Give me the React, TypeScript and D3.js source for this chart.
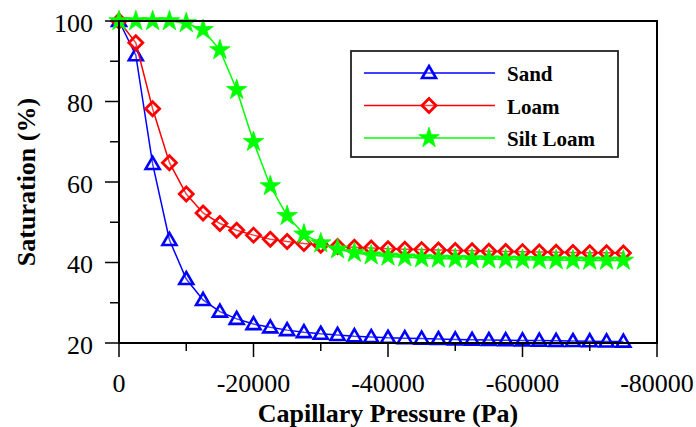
import React from "react";
import * as d3 from "d3";

const pressures = [0, -2500, -5000, -7500, -10000, -12500, -15000, -17500, -20000, -22500, -25000, -27500, -30000, -32500, -35000, -37500, -40000, -42500, -45000, -47500, -50000, -52500, -55000, -57500, -60000, -62500, -65000, -67500, -70000, -72500, -75000];
const sand = [100, 91.5, 64.5, 45.6, 35.9, 30.7, 27.8, 26.0, 24.7, 23.9, 23.2, 22.7, 22.3, 22.0, 21.7, 21.5, 21.3, 21.2, 21.1, 21.0, 20.9, 20.8, 20.75, 20.7, 20.65, 20.6, 20.55, 20.5, 20.45, 20.4, 20.35];
const loam = [100, 94.6, 78.2, 64.8, 57.0, 52.3, 49.7, 48.0, 46.8, 45.8, 45.2, 44.7, 44.3, 44.0, 43.8, 43.6, 43.4, 43.3, 43.2, 43.1, 43.0, 42.9, 42.8, 42.75, 42.7, 42.6, 42.55, 42.5, 42.45, 42.4, 42.35];
const siltLoam = [100, 100, 100, 100, 99.5, 97.8, 92.8, 82.9, 70.0, 59.0, 51.6, 47.0, 44.8, 43.3, 42.4, 41.8, 41.5, 41.3, 41.1, 41.0, 40.9, 40.85, 40.8, 40.75, 40.7, 40.65, 40.6, 40.55, 40.5, 40.5, 40.5];
const seriesNames = ["Sand", "Loam", "Silt Loam"];
const seriesColors = ["#0000ff", "#ff0000", "#00ff00"];
const xTicks = [0, -20000, -40000, -60000, -80000];
const xMinor = [-10000, -30000, -50000, -70000];
const yTicks = [20, 40, 60, 80, 100];
const yMinor = [30, 50, 70, 90];

const W = 696, H = 427;
const left = 119, right = 657, top = 21, bottom = 343;
const FONT = "Liberation Serif";

function Marker({ kind, x, y, color }: { kind: number; x: number; y: number; color: string }) {
  if (kind === 0) {
    const s = 7;
    const p = `M${x},${y - s} L${x + s},${y + s * 0.72} L${x - s},${y + s * 0.72} Z`;
    return <path d={p} fill="white" fillOpacity={0.25} stroke={color} strokeWidth={2.6} />;
  }
  if (kind === 1) {
    const s = 7;
    const p = `M${x},${y - s} L${x + s},${y} L${x},${y + s} L${x - s},${y} Z`;
    return <path d={p} fill="white" fillOpacity={0.25} stroke={color} strokeWidth={2.8} />;
  }
  const sym = d3.symbol(d3.symbolStar, 130)();
  return <path d={sym || ""} transform={`translate(${x},${y})`} fill={color} stroke={color} strokeWidth={0.8} />;
}

export default function App() {
  const xs = d3.scaleLinear().domain([0, -80000]).range([left, right]);
  const ys = d3.scaleLinear().domain([20, 100]).range([bottom, top]);
  const allSeries = [sand, loam, siltLoam];
  const line = d3.line<number>().x((_, i) => xs(pressures[i])).y((d) => ys(d));

  return (
    <svg width={W} height={H} style={{ position: "absolute", left: 0, top: 0 }}>
      <rect x={0} y={0} width={W} height={H} fill="white" />
      {allSeries.map((s, k) => (
        <g key={k}>
          <path d={line(s) || ""} fill="none" stroke={seriesColors[k]} strokeWidth={1.5} />
          {s.map((v, i) => (
            <Marker key={i} kind={k} x={xs(pressures[i])} y={ys(v)} color={seriesColors[k]} />
          ))}
        </g>
      ))}
      <rect x={left} y={top} width={right - left} height={bottom - top} fill="none" stroke="black" strokeWidth={2} />
      {yTicks.map((t) => (
        <g key={t}>
          <line x1={left - 14} x2={left} y1={ys(t)} y2={ys(t)} stroke="black" strokeWidth={1.5} />
          <text x={93} y={ys(t) + 10.5} textAnchor="end" fontFamily={FONT} fontSize={26}>{t}</text>
        </g>
      ))}
      {yMinor.map((t) => (
        <line key={t} x1={left - 9} x2={left} y1={ys(t)} y2={ys(t)} stroke="black" strokeWidth={1.5} />
      ))}
      {xTicks.map((t) => (
        <g key={t}>
          <line x1={xs(t)} x2={xs(t)} y1={bottom} y2={bottom + 14} stroke="black" strokeWidth={1.5} />
          <text x={xs(t)} y={392} textAnchor="middle" fontFamily={FONT} fontSize={26}>{t}</text>
        </g>
      ))}
      {xMinor.map((t) => (
        <line key={t} x1={xs(t)} x2={xs(t)} y1={bottom} y2={bottom + 8} stroke="black" strokeWidth={1.5} />
      ))}
      <text x={388} y={421.5} textAnchor="middle" fontFamily={FONT} fontSize={26} fontWeight="bold">Capillary Pressure (Pa)</text>
      <text transform={`translate(35,182) rotate(-90)`} textAnchor="middle" fontFamily={FONT} fontSize={26} fontWeight="bold">Saturation (%)</text>
      <rect x={351} y={51} width={267} height={106} fill="white" stroke="#222" strokeWidth={1.8} />
      {seriesNames.map((n, k) => {
        const yy = 73 + k * 32.5;
        return (
          <g key={n}>
            <line x1={364} x2={495} y1={yy} y2={yy} stroke={seriesColors[k]} strokeWidth={1.5} />
            <Marker kind={k} x={429} y={yy} color={seriesColors[k]} />
            <text x={507} y={yy + 8} fontFamily={FONT} fontSize={21} fontWeight="bold">{n}</text>
          </g>
        );
      })}
    </svg>
  );
}
